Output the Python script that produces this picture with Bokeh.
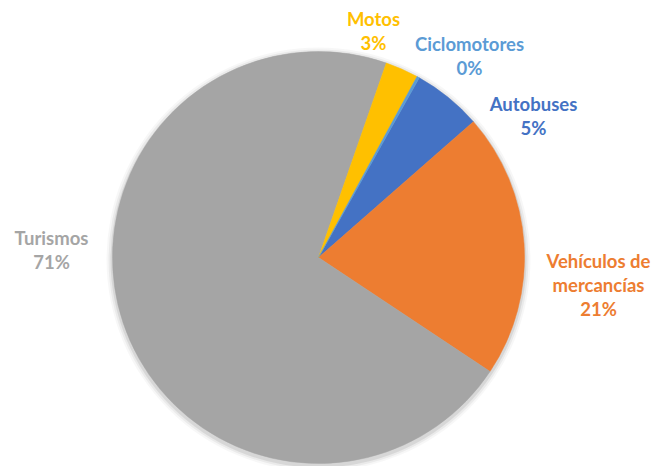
import numpy as np
from bokeh.plotting import figure
from bokeh.models import Range1d, ColumnDataSource
from bokeh.core.properties import value
from bokeh.embed import file_html
from bokeh.resources import INLINE

# Data (Excel series order, drawn clockwise)
categories = ["Autobuses", "Vehículos de mercancías", "Turismos", "Motos", "Ciclomotores"]
shares = [5.4, 20.8, 71.0, 2.6, 0.2]
colors = ["#4472C4", "#ED7D31", "#A5A5A5", "#FFC000", "#5B9BD5"]
label_lines = [["Autobuses"], ["Vehículos de", "mercancías"], ["Turismos"], ["Motos"], ["Ciclomotores"]]
label_pos = [(533, 103), (598, 260), (51, 237), (373, 18), (469, 43)]  # pixel centers of first line
first_angle = 29.3  # degrees clockwise from 12 o'clock

W, H = 653, 466
cx, cy, r = 318, 257, 206

p = figure(width=W, height=H, output_backend="svg", toolbar_location=None,
           x_range=Range1d(0, W), y_range=Range1d(0, H), min_border=0)
p.axis.visible = False
p.grid.visible = False
p.outline_line_color = None
p.background_fill_color = "white"

# soft shadow
for k, a in [(6, 0.03), (4, 0.05), (2, 0.08)]:
    p.circle(x=[cx], y=[H - cy - 2], radius=r + k, fill_color="black",
             fill_alpha=a, line_color=None)

total = sum(shares)
fr = np.array(shares) / total
cum = np.concatenate([[0], np.cumsum(fr)])
theta1 = first_angle + cum[:-1] * 360
theta2 = first_angle + cum[1:] * 360
start = np.radians(90 - theta2)
end = np.radians(90 - theta1)

src = ColumnDataSource(dict(start=start, end=end, color=colors))
p.wedge(x=cx, y=H - cy, radius=r, start_angle="start", end_angle="end",
        fill_color="color", line_color="color", line_width=0.5, source=src)

line_h = 24.0
for lines, (lx, ly), pct, col in zip(label_lines, label_pos, shares, colors):
    texts = lines + ["%d%%" % round(pct)]
    ys = [H - (ly + i * line_h) for i in range(len(texts))]
    p.text(x=[lx] * len(texts), y=ys, text=texts, text_color=col,
           text_font=value("Lato"), text_font_style="bold",
           text_font_size="18.5px", text_align="center", text_baseline="middle")

open("out.html", "w").write(file_html(p, INLINE))
